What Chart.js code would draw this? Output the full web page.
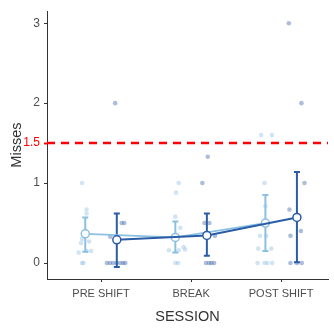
<!DOCTYPE html>
<html>
<head>
<meta charset="utf-8">
<script src="https://cdn.jsdelivr.net/npm/chart.js@4.4.0/dist/chart.umd.min.js"></script>
<style>
  html, body { margin: 0; padding: 0; background: #fff; }
  #wrap { width: 334px; height: 329px; }
</style>
</head>
<body>
<div id="wrap"><canvas id="misses"></canvas></div>
<script>
const sessions = ["PRE SHIFT", "BREAK", "POST SHIFT"];
const yTicks = [0, 1, 1.5, 2, 3];
const threshold = 1.5;

// light group: per-subject misses and horizontal jitter, one pair per session
const lightPre = [1.0, 0.67, 0.62, 0.3, 0.25, 0.27, 0.13, 0.15, 0.15, 0, 0];
const lightPreJit = [-0.036, 0.014, 0.014, -0.036, -0.047, 0.043, -0.073, 0.014, 0.065, -0.036, -0.02];
const lightBreak = [1.0, 0.88, 0.58, 0.44, 0.16, 0.2, 0.16, 0.17, 0, 0];
const lightBreakJit = [0.037, 0.008, 0, 0.055, -0.072, 0.091, 0.037, 0.109, 0.0, 0.03];
const lightPost = [1.6, 1.6, 1.0, 0.71, 0.34, 0.34, 0.18, 0.18, 0, 0, 0, 0];
const lightPostJit = [-0.047, 0.073, -0.01, 0.0, -0.06, 0.01, -0.08, 0.065, -0.087, -0.01, 0.022, 0.076];

// dark group
const darkPre = [2.0, 0.5, 0.5, 0.33, 0, 0, 0, 0, 0, 0, 0];
const darkPreJit = [-0.018, 0.054, 0.083, -0.072, -0.11, -0.075, -0.04, 0, 0.04, 0.07, 0.095];
const darkBreak = [1.33, 1.0, 0.5, 0.5, 0.34, 0, 0, 0, 0];
const darkBreakJit = [0.01, -0.05, -0.026, 0.028, 0.09, -0.01, 0.025, 0.05, 0.08];
const darkPost = [3.0, 2.0, 1.0, 0.67, 0.4, 0.34, 0, 0, 0];
const darkPostJit = [-0.09, 0.05, 0.084, -0.083, 0.044, -0.072, -0.072, 0, 0.054];

// group means with interval bounds
const lightMean = [0.365, 0.32, 0.50];
const lightLo = [0.14, 0.13, 0.15];
const lightHi = [0.57, 0.52, 0.85];
const darkMean = [0.29, 0.345, 0.57];
const darkLo = [-0.05, 0.09, 0.01];
const darkHi = [0.62, 0.62, 1.14];

const dodge = 0.175;
const lightColor = "#8cc0e2";
const darkColor = "#2a5da6";
const lightDot = "rgba(150,196,228,0.45)";
const darkDot = "rgba(60,100,170,0.42)";
const red = "#ff0000";

function jittered(values, offsets, session, side) {
  return values.map((v, k) => ({ x: session + 1 + side * dodge + offsets[k], y: v }));
}

function meanPoints(means, side) {
  return means.map((m, i) => ({ x: i + 1 + side * dodge, y: m }));
}

function errorBars(lo, hi, side, color, order) {
  return lo.map((l, i) => ({
    type: "line",
    data: [{ x: i + 1 + side * dodge, y: l }, { x: i + 1 + side * dodge, y: hi[i] }],
    borderColor: color,
    borderWidth: 2,
    pointStyle: "line",
    pointRadius: 3,
    pointBorderColor: color,
    pointBorderWidth: 2,
    order: order,
  }));
}

const dotSet = (data, color) => ({
  type: "scatter",
  data: data,
  pointRadius: 2.3,
  pointBackgroundColor: color,
  pointBorderWidth: 0,
  order: 9,
});

const datasets = [
  {
    type: "line",
    data: [{ x: 0.4, y: threshold }, { x: 3.52, y: threshold }],
    borderColor: red,
    borderWidth: 2.5,
    borderDash: [8, 6],
    pointRadius: 0,
    order: 10,
  },
  dotSet(jittered(lightPre, lightPreJit, 0, -1), lightDot),
  dotSet(jittered(lightBreak, lightBreakJit, 1, -1), lightDot),
  dotSet(jittered(lightPost, lightPostJit, 2, -1), lightDot),
  dotSet(jittered(darkPre, darkPreJit, 0, 1), darkDot),
  dotSet(jittered(darkBreak, darkBreakJit, 1, 1), darkDot),
  dotSet(jittered(darkPost, darkPostJit, 2, 1), darkDot),
  ...errorBars(lightLo, lightHi, -1, lightColor, 8),
  ...errorBars(darkLo, darkHi, 1, darkColor, 7),
  {
    type: "line",
    data: meanPoints(lightMean, -1),
    borderColor: lightColor,
    borderWidth: 1.8,
    pointRadius: 4,
    pointBackgroundColor: "#fff",
    pointBorderColor: lightColor,
    pointBorderWidth: 1.5,
    order: 6,
  },
  {
    type: "line",
    data: meanPoints(darkMean, 1),
    borderColor: darkColor,
    borderWidth: 2,
    pointRadius: 4,
    pointBackgroundColor: "#fff",
    pointBorderColor: darkColor,
    pointBorderWidth: 1.5,
    order: 5,
  },
];

const tickGray = "#4d4d4d";
const axisFont = "'Liberation Sans', Arial, sans-serif";

new Chart(document.getElementById("misses"), {
  type: "scatter",
  data: { datasets },
  options: {
    responsive: true,
    maintainAspectRatio: false,
    animation: false,
    layout: { padding: { top: 8, right: 0, left: 0, bottom: 0 } },
    plugins: { legend: { display: false }, tooltip: { enabled: false } },
    scales: {
      x: {
        type: "linear",
        min: 0.4,
        max: 3.52,
        afterBuildTicks: (scale) => {
          scale.ticks = sessions.map((s, i) => ({ value: i + 1 }));
        },
        afterFit: (scale) => {
          scale.height = 50;
        },
        ticks: {
          color: tickGray,
          font: { family: axisFont, size: 11 },
          padding: 5,
          maxRotation: 0,
          callback: (v) => sessions[Math.round(v) - 1],
        },
        grid: { drawOnChartArea: false, drawTicks: true, tickLength: 3, tickColor: "#333" },
        border: { display: true, color: "#333", width: 1 },
        title: {
          display: true,
          text: "SESSION",
          color: "#333",
          font: { family: axisFont, size: 14.5 },
          padding: { top: 0, bottom: 3 },
        },
      },
      y: {
        type: "linear",
        min: -0.2,
        max: 3.15,
        afterBuildTicks: (scale) => {
          scale.ticks = yTicks.map((v) => ({ value: v }));
        },
        afterFit: (scale) => {
          scale.width = 47;
        },
        ticks: {
          color: (ctx) => (ctx.tick.value === threshold ? red : tickGray),
          font: { family: axisFont, size: 12 },
          padding: 4,
          callback: (v) => String(v),
        },
        grid: {
          drawOnChartArea: false,
          drawTicks: true,
          tickLength: 3,
          tickColor: (ctx) => (ctx.tick && ctx.tick.value === threshold ? red : "#333"),
          tickWidth: (ctx) => (ctx.tick && ctx.tick.value === threshold ? 2 : 1),
        },
        border: { display: true, color: "#333", width: 1 },
        title: {
          display: true,
          text: "Misses",
          color: "#333",
          font: { family: axisFont, size: 14.5 },
          padding: { top: 8, bottom: 0 },
        },
      },
    },
  },
});
</script>
</body>
</html>
